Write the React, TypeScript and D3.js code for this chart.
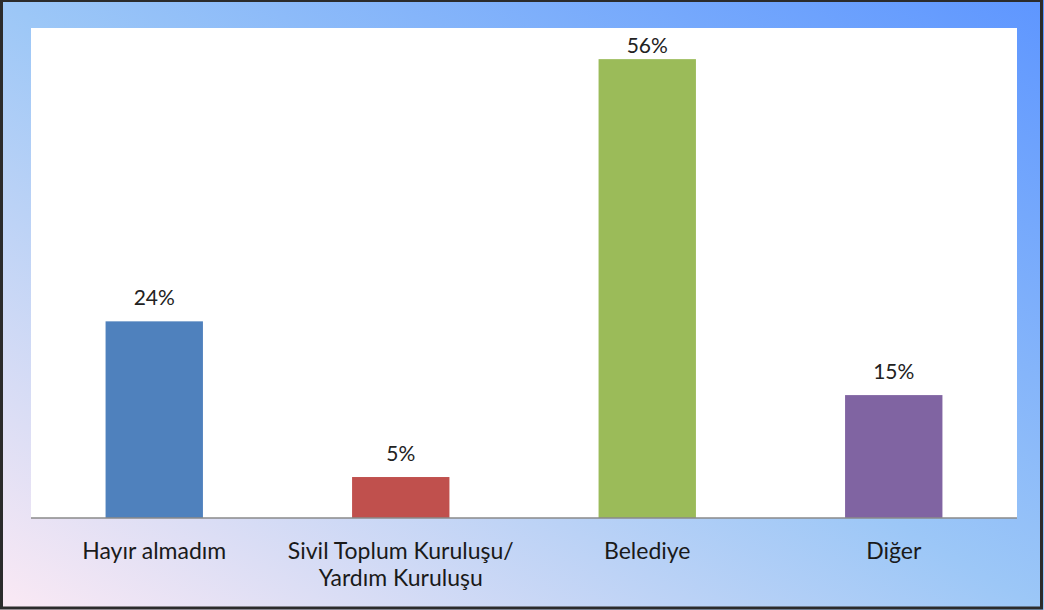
import React from "react";
import * as d3 from "d3";

const categories: string[][] = [
  ["Hayır almadım"],
  ["Sivil Toplum Kuruluşu/", "Yardım Kuruluşu"],
  ["Belediye"],
  ["Diğer"],
];
const values: number[] = [24, 5, 56, 15];
const valueLabels: string[] = ["24%", "5%", "56%", "15%"];
const barColors: string[] = ["#4F81BD", "#C0504D", "#9BBB59", "#8064A2"];

const W = 1044;
const H = 610;
const plot = { left: 31, right: 1017, top: 28, bottom: 518 };
const FONT = "Lato, 'Open Sans', sans-serif";

export default function App() {
  const x = d3
    .scaleBand<number>()
    .domain(values.map((_, i) => i))
    .range([plot.left, plot.right])
    .paddingInner(0)
    .paddingOuter(0);
  const y = d3.scaleLinear().domain([0, 59.8]).range([plot.bottom, plot.top]);
  const barW = x.bandwidth() * 0.395;

  return (
    <svg
      width={W}
      height={H}
      style={{ position: "absolute", left: 0, top: 0, display: "block" }}
      fontFamily={FONT}
    >
      <defs>
        <linearGradient id="bg" x1="0" y1="1" x2="1" y2="0">
          <stop offset="0" stopColor="#FBE9F4" />
          <stop offset="0.5" stopColor="#9CC7F7" />
          <stop offset="1" stopColor="#5E96FF" />
        </linearGradient>
      </defs>
      <rect x={0} y={0} width={W} height={H} fill="url(#bg)" />
      <rect
        x={plot.left}
        y={plot.top}
        width={plot.right - plot.left}
        height={plot.bottom - plot.top}
        fill="#FFFFFF"
      />
      {values.map((v, i) => {
        const cx = (x(i) as number) + x.bandwidth() / 2;
        return (
          <g key={i}>
            <rect
              x={cx - barW / 2}
              y={y(v)}
              width={barW}
              height={y(0) - y(v)}
              fill={barColors[i]}
            />
            <text
              x={cx}
              y={Math.max(y(v) - 16, plot.top + 25)}
              textAnchor="middle"
              fontSize={21}
              fill="#222"
            >
              {valueLabels[i]}
            </text>
            {categories[i].map((line, j) => (
              <text
                key={j}
                x={cx}
                y={559 + j * 27}
                textAnchor="middle"
                fontSize={23}
                fill="#1a1a1a"
              >
                {line}
              </text>
            ))}
          </g>
        );
      })}
      <line
        x1={plot.left}
        x2={plot.right}
        y1={plot.bottom}
        y2={plot.bottom}
        stroke="#8a8a8a"
        strokeWidth={1.5}
      />
      <rect
        x={1.5}
        y={0.5}
        width={W - 4}
        height={H - 2.5}
        fill="none"
        stroke="#2b2b2b"
        strokeWidth={3}
      />
    </svg>
  );
}
